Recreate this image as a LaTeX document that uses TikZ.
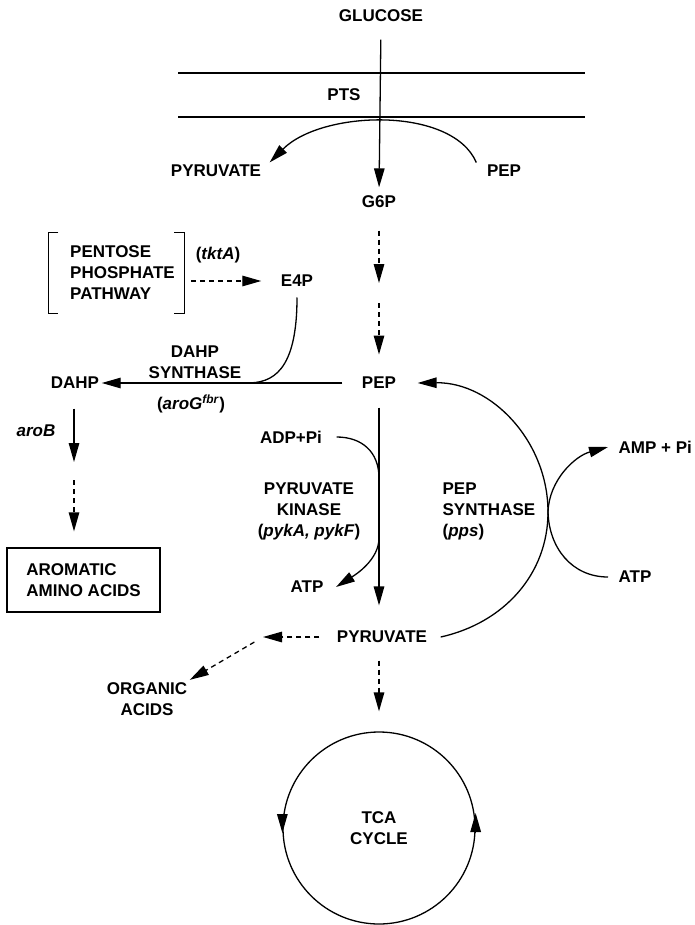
\documentclass[tikz,border=0pt]{standalone}
\usepackage{fontspec}
\setmainfont{Liberation Sans}
\usetikzlibrary{arrows.meta}

\begin{document}
\begin{tikzpicture}[x=1pt,y=-1pt,line width=1.3pt,
    every node/.style={font=\bfseries\fontsize{17}{21}\selectfont,inner sep=2pt},
    arr/.style={-{Triangle[length=19pt,width=10.5pt]}},
    dasharr/.style={arr,dash pattern=on 5pt off 4pt}]
  \useasboundingbox (0,0) rectangle (695,925);
  \draw (178,73) -- (585,73);
  \draw (178,117) -- (585,117);

  \node (glc) at (381,16) {GLUCOSE};
  \node (pts) at (344,95) {PTS};
  \node (pyrT) at (216,171) {PYRUVATE};
  \node (pepT) at (504,171) {PEP};
  \node (g6p) at (379,202) {G6P};
  \node[minimum width=122pt,minimum height=80pt,align=left] (pppbox) at (122.5,273) {PENTOSE\\PHOSPHATE\\PATHWAY};
  \node (tkta) at (218,255) {(\textit{tktA})};
  \node (e4p) at (297,281) {E4P};
  \node (pepM) at (379,383) {PEP};
  \node (dahp) at (75,383) {DAHP};
  \node[align=center] (dahps) at (195,362) {DAHP\\SYNTHASE};
  \node (arog) at (191,404) {(\textit{aroG}\textsuperscript{\textit{fbr}})};
  \node (arob) at (36,431) {\textit{aroB}};
  \node[draw,minimum width=153pt,minimum height=64pt,align=left] (aro) at (83.5,580) {AROMATIC\\AMINO ACIDS};
  \node (adp) at (291,437) {ADP+Pi};
  \node[align=center] (pyk) at (309,511) {PYRUVATE\\KINASE\\(\textit{pykA, pykF})};
  \node (atpL) at (307,587) {ATP};
  \node[anchor=west,align=left] (pps) at (440,511) {PEP\\SYNTHASE\\(\textit{pps})};
  \node[anchor=west] (amp) at (616,447) {AMP + Pi};
  \node[anchor=west] (atpR) at (616,577) {ATP};
  \node (pyrB) at (382,637) {PYRUVATE};
  \node[align=center] (organic) at (147,699) {ORGANIC\\ACIDS};
  \node[circle,draw,minimum size=192pt,inner sep=0pt,align=center] (tca) at (379,828) {TCA\\CYCLE};

  \coordinate (g6pmid) at (379,293);
  \coordinate (dahpj) at (247,383);
  \coordinate (aromid) at (74,471);
  \coordinate (kin1) at (379,478);
  \coordinate (kin2) at (379,538);
  \coordinate (ppsj) at (548,512);
  \coordinate (orgbr) at (263,637);

  \draw[arr,shorten <=15pt,shorten >=6pt] (glc.south) -- (g6p.north);
  \draw[arr] ([xshift=-8pt]pepT.north west) .. controls (452,106) and (322,110) .. ([xshift=6pt]pyrT.north east);
  \draw[dasharr,shorten <=20pt,shorten >=10pt] (g6p.south) -- (g6pmid);
  \draw[dasharr,shorten <=10pt,shorten >=20pt] (g6pmid) -- (pepM.north);
  \draw ([xshift=-2.5pt]pppbox.north west) -| ([xshift=-12.5pt]pppbox.south west) -- ([xshift=-2.5pt]pppbox.south west);
  \draw ([xshift=-10pt]pppbox.north east) -| (pppbox.south east) -- ([xshift=-10pt]pppbox.south east);
  \draw[dasharr,shorten <=7pt,shorten >=17pt] (pppbox.east |- e4p.west) -- (e4p.west);
  \draw[arr,shorten <=17pt] (pepM.west) -- (dahp.east);
  \draw[shorten <=8pt] (e4p.south) .. controls (297,372) and (272,383) .. (dahpj);
  \draw[arr,shorten <=17pt,shorten >=9pt] (aromid |- dahp.south) -- (aromid);
  \draw[dasharr,shorten <=9pt,shorten >=16pt] (aromid) -- (aromid |- aro.north);
  \draw[arr,shorten <=16pt,shorten >=23pt] (pepM.south) -- (pepM |- pyrB.north);
  \draw[arr] ([xshift=12pt]adp.east) .. controls (362,437) and (379,452) .. (kin1) -- (kin2)
    .. controls (379,560) and (355,575) .. ([xshift=10pt]atpL.east);
  \draw[arr] ([xshift=11pt]pyrB.east) .. controls (504,623) and (548,574) .. (ppsj)
    .. controls (548,441) and (491,382) .. ([xshift=19pt]pepM.east);
  \draw[arr] ([xshift=-8pt]atpR.west) .. controls (572,577) and (549,548) .. (ppsj)
    .. controls (549,480) and (575,456) .. ([xshift=-8pt]amp.west);
  \draw[dasharr,shorten <=15pt] (pyrB.west) -- (orgbr);
  \draw[dasharr,shorten <=10pt] (orgbr) -- (organic.north east);
  \draw[dasharr,shorten <=15pt,shorten >=20pt] (pepM |- pyrB.south) -- (tca.north);
  \draw[arr] ([yshift=12pt]tca.west) -- ([yshift=-5pt]tca.west);
  \draw[arr] ([yshift=-5pt]tca.east) -- ([yshift=15pt]tca.east);
\end{tikzpicture}
\end{document}
